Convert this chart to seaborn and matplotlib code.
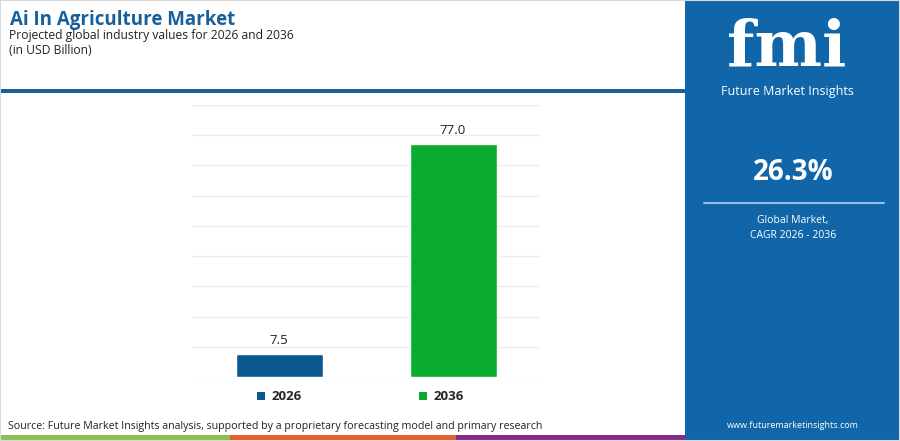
import matplotlib
matplotlib.use("Agg")
import matplotlib.pyplot as plt
import seaborn as sns
import pandas as pd
from matplotlib.patches import Rectangle, Patch

# ---- data ----
years = ["2026", "2036"]
values = [7.5, 77.0]
bar_colors = ["#0a5a8f", "#0aac2f"]
title = "Ai In Agriculture Market"
subtitle = "Projected global industry values for 2026 and 2036"
unit = "(in USD Billion)"
cagr = "26.3%"
cagr_label = "Global Market,\nCAGR 2026 - 2036"
source = "Source: Future Market Insights analysis, supported by a proprietary forecasting model and primary research"
website = "www.futuremarketinsights.com"

sns.set_theme(style="white")
plt.rcParams['font.family'] = ['Open Sans', 'DejaVu Sans']

W, H = 900, 441
fig = plt.figure(figsize=(W / 100, H / 100), dpi=100)
fig.patch.set_facecolor("white")

def fx(px):
    return px / W

def fy(py):
    return 1 - py / H

# right panel
fig.patches.append(Rectangle((fx(685), 0), fx(900 - 685), 1, transform=fig.transFigure,
                             facecolor="#1066a8", edgecolor="none", zorder=0))
# header line
fig.patches.append(Rectangle((0, fy(93)), fx(685), 4 / H, transform=fig.transFigure,
                             facecolor="#1a5e9a", edgecolor="none"))
# bottom stripes
for x0, x1, c in [(0, 230, "#8cc152"), (230, 456, "#e5602c"), (456, 685, "#8b2a8b")]:
    fig.patches.append(Rectangle((fx(x0), fy(440)), fx(x1 - x0), 5 / H, transform=fig.transFigure,
                                 facecolor=c, edgecolor="none"))
# light border
fig.patches.append(Rectangle((0, 0), 1, 1, transform=fig.transFigure, fill=False,
                             edgecolor="#d8d8d8", linewidth=1.5))

# titles
fig.text(fx(10), fy(20), title, fontsize=13.5, fontweight="bold", color="#17609c", va="center", ha="left")
fig.text(fx(9), fy(35), subtitle, fontsize=8.7, color="#222222", va="center", ha="left")
fig.text(fx(9), fy(51), unit, fontsize=8.7, color="#222222", va="center", ha="left")

# main axes
ax = fig.add_axes([fx(192), fy(377), fx(540 - 192), (377 - 105) / H])
df = pd.DataFrame({"year": years, "value": values})
sns.barplot(data=df, x="year", y="value", hue="year", palette=bar_colors, width=0.5,
            legend=False, ax=ax, saturation=1)
ax.set_xlim(-0.5, 1.5)
ax.set_ylim(0, 90)
ax.set_yticks(range(0, 91, 10))
ax.yaxis.grid(True, color="#eeeeee", linewidth=1)
ax.set_axisbelow(True)
for s in ax.spines.values():
    s.set_visible(False)
ax.tick_params(left=False, bottom=False, labelleft=False, labelbottom=False)
ax.set_xlabel("")
ax.set_ylabel("")
for cont in ax.containers:
    ax.bar_label(cont, fmt="%.1f", padding=5, fontsize=9.5, color="#222222")

handles = [Patch(facecolor=c, edgecolor="none") for c in bar_colors]
leg = fig.legend(handles, years, loc="center", bbox_to_anchor=(fx(360), fy(397)), ncol=2,
                 frameon=False, handlelength=0.6, handleheight=0.6, handletextpad=0.5,
                 columnspacing=8.9, prop={"weight": "bold", "size": 9.5})

fig.text(fx(8), fy(426), source, fontsize=7.7, color="#222222", va="center", ha="left")

# right panel text
cx = fx(787)
fig.text(cx, fy(48), "fmi", fontsize=46, fontweight="bold", color="white", ha="center", va="center",
         family=["DejaVu Serif"])
fig.text(cx, fy(92), "Future Market Insights", fontsize=9, color="white", ha="center", va="center")
fig.text(fx(793), fy(172), cagr, fontsize=20, fontweight="bold", color="white", ha="center", va="center")
fig.lines.append(plt.Line2D([fx(704), fx(884)], [fy(203), fy(203)], transform=fig.transFigure,
                            color="#8fc1ea", linewidth=1.5))
fig.text(fx(793), fy(228), cagr_label, fontsize=7.5, color="white", ha="center", va="center",
         linespacing=1.6)
fig.text(fx(793), fy(425), website, fontsize=6.5, color="white", ha="center", va="center")

fig.savefig("out.png", dpi=100)
